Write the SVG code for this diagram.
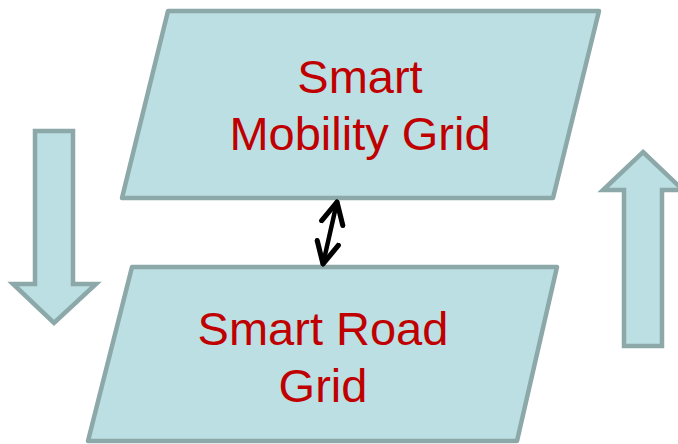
<svg xmlns="http://www.w3.org/2000/svg" width="678" height="444" viewBox="0 0 678 444">
  <style>
    .shape { fill: #bbdfe2; stroke: #8ca8a9; stroke-width: 4.5; stroke-linejoin: round; }
    .block { fill: #bbdfe2; stroke: #8ca8a9; stroke-width: 4.5; stroke-linejoin: miter; }
    .label { font-family: "Liberation Sans", Arial, sans-serif; font-size: 47px; fill: #c00000; text-anchor: middle; }
    .link { stroke: #000; stroke-width: 4.5; fill: none; stroke-linecap: round; }
  </style>
  <defs>
    <marker id="chevron" viewBox="0 0 10 10" refX="9" refY="5" markerWidth="6" markerHeight="6" orient="auto-start-reverse" markerUnits="strokeWidth">
      <path d="M1,1 L9,5 L1,9" fill="none" stroke="#000" stroke-width="1.9" stroke-linecap="round" stroke-linejoin="round"/>
    </marker>
  </defs>

  <!-- downward block arrow, left side -->
  <g id="arrow-down">
    <polygon class="block" points="35,131 73,131 73,284 96,284 54,323 13,284 35,284"/>
  </g>

  <!-- upward block arrow, right side -->
  <g id="arrow-up">
    <polygon class="block" points="643,152 683,190 662,190 662,346 624,346 624,190 603,190"/>
  </g>

  <!-- upper layer -->
  <g id="smart-mobility-grid">
    <polygon class="shape" points="168,11 599,11 553,198 122,198"/>
    <text class="label" x="360" y="93">Smart</text>
    <text class="label" x="360" y="150">Mobility Grid</text>
  </g>

  <!-- lower layer -->
  <g id="smart-road-grid">
    <polygon class="shape" points="132,267 557,267 517,441 88,441"/>
    <text class="label" x="323" y="345">Smart Road</text>
    <text class="label" x="323" y="402">Grid</text>
  </g>

  <!-- two-way link between the layers -->
  <g id="connectors">
    <line class="link" x1="323" y1="264" x2="337" y2="202" marker-start="url(#chevron)" marker-end="url(#chevron)"/>
  </g>
</svg>
